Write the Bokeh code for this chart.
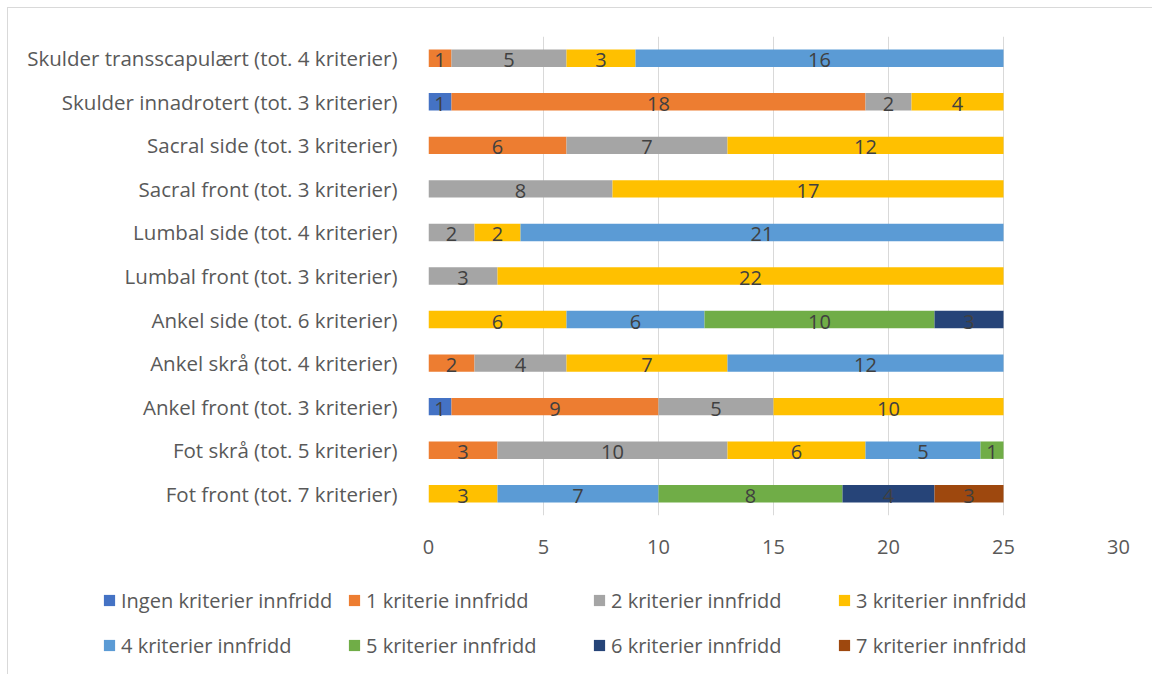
from bokeh.plotting import figure
from bokeh.layouts import column
from bokeh.models import ColumnDataSource, Legend, LegendItem, FactorRange
from bokeh.core.properties import value
from bokeh.embed import file_html
from bokeh.resources import INLINE

categories = [
    "Fot front (tot. 7 kriterier)",
    "Fot skrå (tot. 5 kriterier)",
    "Ankel front (tot. 3 kriterier)",
    "Ankel skrå (tot. 4 kriterier)",
    "Ankel side (tot. 6 kriterier)",
    "Lumbal front (tot. 3 kriterier)",
    "Lumbal side (tot. 4 kriterier)",
    "Sacral front (tot. 3 kriterier)",
    "Sacral side (tot. 3 kriterier)",
    "Skulder innadrotert (tot. 3 kriterier)",
    "Skulder transscapulært (tot. 4 kriterier)",
]
series_names = [
    "Ingen kriterier innfridd", "1 kriterie innfridd", "2 kriterier innfridd",
    "3 kriterier innfridd", "4 kriterier innfridd", "5 kriterier innfridd",
    "6 kriterier innfridd", "7 kriterier innfridd",
]
ingen = [0, 0, 1, 0, 0, 0, 0, 0, 0, 1, 0]
k1 = [0, 3, 9, 2, 0, 0, 0, 0, 6, 18, 1]
k2 = [0, 10, 5, 4, 0, 3, 2, 8, 7, 2, 5]
k3 = [3, 6, 10, 7, 6, 22, 2, 17, 12, 4, 3]
k4 = [7, 5, 0, 12, 6, 0, 21, 0, 0, 0, 16]
k5 = [8, 1, 0, 0, 10, 0, 0, 0, 0, 0, 0]
k6 = [4, 0, 0, 0, 3, 0, 0, 0, 0, 0, 0]
k7 = [3, 0, 0, 0, 0, 0, 0, 0, 0, 0, 0]
x_ticks = [0, 5, 10, 15, 20, 25, 30]

colors = ["#4472C4", "#ED7D31", "#A5A5A5", "#FFC000", "#5B9BD5", "#70AD47", "#264478", "#9E480E"]
series = [ingen, k1, k2, k3, k4, k5, k6, k7]
keys = ["s%d" % i for i in range(len(series))]

data = {"cat": categories}
for k, s in zip(keys, series):
    data[k] = s
source = ColumnDataSource(data)

FONT = "Open Sans"
FS = "20px"
TXT = "#595959"

p = figure(
    y_range=FactorRange(*categories, range_padding=0),
    x_range=(0, 30),
    width=1144, height=567,
    output_backend="svg", toolbar_location=None,
    min_border_left=420, min_border_right=34, min_border_top=28, min_border_bottom=60,
)
p.frame_align = False
renderers = p.hbar_stack(keys, y="cat", height=0.4, color=colors, source=source, line_color=None)

# data labels
lx, ly, lt = [], [], []
for i, cat in enumerate(categories):
    left = 0
    for s in series:
        v = s[i]
        if v > 0:
            lx.append(left + v / 2)
            ly.append(cat)
            lt.append(str(v))
        left += v
p.text(x=lx, y=ly, text=lt, text_align="center", text_baseline="middle",
       text_font=value(FONT), text_font_size=FS, text_color="#404040", y_offset=2)

p.outline_line_color = None
p.background_fill_color = "white"
p.border_fill_color = "white"
p.ygrid.grid_line_color = None
p.xgrid.grid_line_color = "#d9d9d9"
p.xgrid.grid_line_width = 1
p.xaxis.ticker = x_ticks
p.xaxis.axis_line_color = None
p.xaxis.major_tick_line_color = None
p.xaxis.minor_tick_line_color = None
p.xaxis.major_label_text_font = FONT
p.xaxis.major_label_text_font_size = FS
p.xaxis.major_label_text_color = TXT
p.xaxis.major_label_standoff = 18
p.yaxis.axis_line_color = None
p.yaxis.major_tick_line_color = None
p.yaxis.major_label_text_font = FONT
p.yaxis.major_label_text_font_size = "20.5px"
p.yaxis.major_label_text_color = TXT
p.yaxis.major_label_standoff = 25

# legend in its own strip below the chart
lp = figure(width=1144, height=99, x_range=(0, 1), y_range=(0, 1),
            output_backend="svg", toolbar_location=None,
            x_axis_location=None, y_axis_location=None,
            min_border_left=0, min_border_right=0, min_border_top=0, min_border_bottom=0)
lp.frame_align = False
lp.xgrid.grid_line_color = None
lp.ygrid.grid_line_color = None
lp.outline_line_color = None
lp.background_fill_color = "white"
lp.border_fill_color = "white"
# swatch-only renderers, placed far outside the strip's visible range
dummy = [lp.hbar(y=[50], left=[50], right=[51], height=0.5, color=c, line_color=None) for c in colors]
items = [LegendItem(label=n, renderers=[r]) for n, r in zip(series_names, dummy)]
legend = Legend(items=items, ncols=4, location=(94, 9), orientation="horizontal",
                label_text_font=FONT, label_text_font_size=FS, label_text_color=TXT,
                glyph_width=14, glyph_height=14, spacing=5, label_standoff=5,
                label_width=221, label_height=40,
                border_line_color=None, background_fill_alpha=0, padding=0, margin=0)
lp.add_layout(legend, "center")

layout = column(p, lp, spacing=0,
                styles={"border-top": "1px solid #d9d9d9", "border-left": "1px solid #d9d9d9",
                        "margin-left": "7px", "margin-top": "7px"})

open("out.html", "w").write(file_html(layout, INLINE))
